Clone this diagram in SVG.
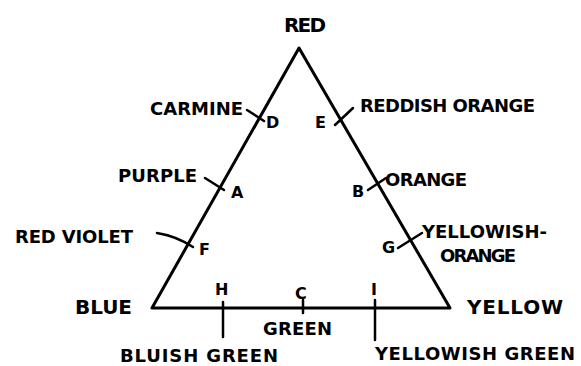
<svg xmlns="http://www.w3.org/2000/svg" width="581" height="366" viewBox="0 0 581 366">
<style>
text{font-family:"DejaVu Sans","Liberation Sans",sans-serif;font-weight:bold;fill:#000}
.l{font-size:18px}
.s{font-size:16px}
.b{font-size:20px}
.ln{stroke:#000;stroke-width:3;fill:none;stroke-linecap:round;stroke-linejoin:round}
.tk{stroke:#000;stroke-width:2.5;fill:none;stroke-linecap:round}
</style>
<rect width="581" height="366" fill="#fff"/>
<g id="triangle"><polygon class="ln" points="299,48 152,308 450,308"/></g>
<g id="red"><text class="b" x="284" y="32" textLength="42">RED</text></g>
<g id="blue"><text class="b" x="75" y="314" textLength="57">BLUE</text></g>
<g id="yellow"><text class="b" x="467" y="314" textLength="96">YELLOW</text></g>
<g id="D"><text class="l" x="150" y="115" textLength="93">CARMINE</text><text class="s" x="266" y="128">D</text></g>
<g id="E"><text class="s" x="315" y="128">E</text><text class="l" x="360" y="112" textLength="175">REDDISH ORANGE</text></g>
<g id="A"><text class="l" x="118" y="182" textLength="79">PURPLE</text><text class="s" x="231" y="198">A</text></g>
<g id="B"><text class="s" x="352" y="197">B</text><text class="l" x="385" y="186" textLength="82">ORANGE</text></g>
<g id="F"><text class="l" x="15" y="243" textLength="118">RED VIOLET</text><text class="s" x="199" y="255">F</text></g>
<g id="G"><text class="s" x="382" y="253">G</text><text class="l" x="422" y="238" textLength="125">YELLOWISH-</text><text class="l" x="440" y="262" textLength="76">ORANGE</text></g>
<g id="H"><text class="s" x="215" y="295">H</text><text class="l" x="120" y="362" textLength="158">BLUISH GREEN</text></g>
<g id="C"><text class="s" x="295" y="299">C</text><text class="l" x="263" y="335" textLength="69">GREEN</text></g>
<g id="I"><text class="s" x="371" y="295">I</text><text class="l" x="375" y="360" textLength="200">YELLOWISH GREEN</text></g>
<g id="connectors">
<line class="tk" x1="247" y1="110" x2="264" y2="121"/>
<line class="tk" x1="335" y1="125" x2="353" y2="108"/>
<line class="tk" x1="205" y1="178" x2="224" y2="190"/>
<path class="tk" d="M157,233 Q176,236 193,247"/>
<line class="tk" x1="368" y1="190" x2="386" y2="178"/>
<line class="tk" x1="398" y1="248" x2="422" y2="233"/>
<line class="tk" x1="223" y1="302" x2="223" y2="337"/>
<line class="tk" x1="303" y1="300" x2="303" y2="313"/>
<line class="tk" x1="375" y1="300" x2="375" y2="340"/>
</g>
</svg>
